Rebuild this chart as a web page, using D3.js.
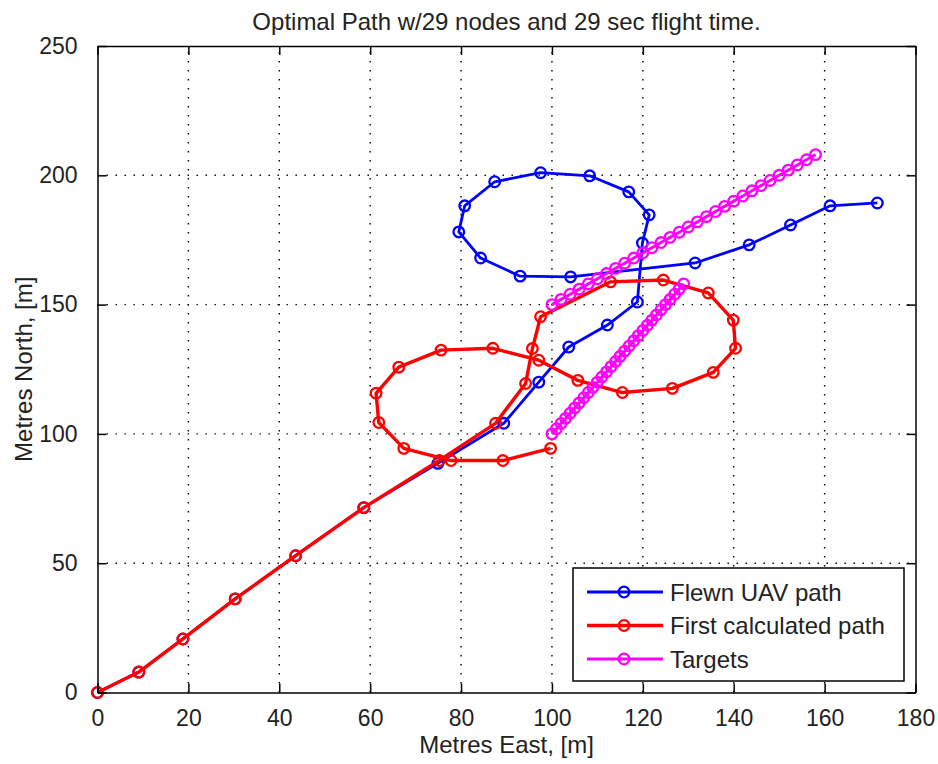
<!DOCTYPE html>
<html>
<head>
<meta charset="utf-8">
<script src="https://cdn.jsdelivr.net/npm/d3@7"></script>
<style>
  body { margin: 0; background: #fff; }
  svg { display: block; font-family: "Liberation Sans", Arial, sans-serif; }
</style>
</head>
<body>
<svg id="chart"></svg>
<script>
// flown UAV path (blue)
const flownX = [0, 9.1, 18.8, 30.3, 43.6, 58.6, 74.9, 89.4, 97.1, 103.7, 112.2, 118.8, 119.9, 121.4, 116.9, 108.3, 97.5, 87.4, 80.8, 79.5, 84.3, 93.0, 104.1, 131.5, 143.4, 152.5, 161.2, 171.6];
const flownY = [0, 7.9, 20.7, 36.2, 52.9, 71.5, 88.6, 104.1, 120.0, 133.6, 142.1, 151.0, 173.8, 184.7, 193.6, 199.8, 201.0, 197.5, 188.2, 178.1, 168.0, 161.0, 160.7, 166.1, 173.1, 180.8, 188.2, 189.3];

// first calculated path (red)
const calcX = [0, 9.1, 18.8, 30.3, 43.6, 58.6, 75.2, 87.6, 94.2, 95.7, 97.5, 112.9, 124.5, 134.4, 139.9, 140.4, 135.5, 126.5, 115.5, 105.7, 97.1, 87.0, 75.6, 66.3, 61.3, 61.9, 67.4, 77.8, 89.2, 99.7];
const calcY = [0, 7.9, 20.7, 36.2, 52.9, 71.5, 89.7, 104.1, 119.5, 133.0, 145.3, 158.8, 159.5, 154.5, 144.0, 133.1, 123.8, 117.6, 116.0, 120.7, 128.5, 133.1, 132.4, 125.8, 115.7, 104.4, 94.4, 89.7, 89.7, 94.4];

// targets (magenta), two tracks
const target1X = [100, 102, 104, 106, 108, 110, 112, 114, 116, 118, 120, 122, 124, 126, 128, 130, 132, 134, 136, 138, 140, 142, 144, 146, 148, 150, 152, 154, 156, 158];
const target1Y = [150, 152, 154, 156, 158, 160, 162, 164, 166, 168, 170, 172, 174, 176, 178, 180, 182, 184, 186, 188, 190, 192, 194, 196, 198, 200, 202, 204, 206, 208];
const target2X = [100, 101, 102, 103, 104, 105, 106, 107, 108, 109, 110, 111, 112, 113, 114, 115, 116, 117, 118, 119, 120, 121, 122, 123, 124, 125, 126, 127, 128, 129];
const target2Y = [100, 102, 104, 106, 108, 110, 112, 114, 116, 118, 120, 122, 124, 126, 128, 130, 132, 134, 136, 138, 140, 142, 144, 146, 148, 150, 152, 154, 156, 158];

const xTicks = [0, 20, 40, 60, 80, 100, 120, 140, 160, 180];
const yTicks = [0, 50, 100, 150, 200, 250];

const titleText = "Optimal Path w/29 nodes and 29 sec flight time.";
const xLabel = "Metres East, [m]";
const yLabel = "Metres North, [m]";

const width = 938;
const height = 764;
const margin = { top: 46, right: 22.5, bottom: 71.5, left: 97.5 };

const svg = d3.select("#chart").attr("width", width).attr("height", height);

const x = d3.scaleLinear().domain([0, 180]).range([margin.left, width - margin.right]);
const y = d3.scaleLinear().domain([0, 250]).range([height - margin.bottom, margin.top]);

const markerR = 5.3;
const series = [
  { name: "Flewn UAV path", color: "#0000ff", width: 2.8, tracks: [[flownX, flownY]] },
  { name: "First calculated path", color: "#ff0000", width: 3.4, tracks: [[calcX, calcY]] },
  { name: "Targets", color: "#ff00ff", width: 3, tracks: [[target1X, target1Y], [target2X, target2Y]] },
];

// dotted grid
const grid = svg.append("g")
  .attr("stroke", "#000")
  .attr("stroke-width", 1.4)
  .attr("stroke-dasharray", "1.4 7.6");
grid.selectAll("line.gx")
  .data(xTicks.slice(1, -1))
  .join("line")
  .attr("class", "gx")
  .attr("x1", (d) => x(d)).attr("x2", (d) => x(d))
  .attr("y1", y(0)).attr("y2", y(250));
grid.selectAll("line.gy")
  .data(yTicks.slice(1, -1))
  .join("line")
  .attr("class", "gy")
  .attr("x1", x(0)).attr("x2", x(180))
  .attr("y1", (d) => y(d)).attr("y2", (d) => y(d));

// paths and markers
const line = d3.line().x((d) => x(d[0])).y((d) => y(d[1]));
series.forEach((s) => {
  const g = svg.append("g");
  s.tracks.forEach(([xs, ys]) => {
    const pts = xs.map((v, i) => [v, ys[i]]);
    g.append("path")
      .attr("d", line(pts))
      .attr("fill", "none")
      .attr("stroke", s.color)
      .attr("stroke-width", s.width)
      .attr("stroke-linejoin", "round");
    g.selectAll(null)
      .data(pts)
      .join("circle")
      .attr("cx", (d) => x(d[0]))
      .attr("cy", (d) => y(d[1]))
      .attr("r", markerR)
      .attr("fill", "none")
      .attr("stroke", s.color)
      .attr("stroke-width", 2.3);
  });
});

// axes box with inward ticks on all sides
const tickLen = 9;
const axisFont = 23;
const xAxisB = svg.append("g")
  .attr("transform", `translate(0 ${y(0)})`)
  .call(d3.axisBottom(x).tickValues(xTicks).tickSize(-tickLen).tickPadding(tickLen + 8).tickSizeOuter(0));
const xAxisT = svg.append("g")
  .attr("transform", `translate(0 ${y(250)})`)
  .call(d3.axisTop(x).tickValues(xTicks).tickSize(-tickLen).tickFormat("").tickSizeOuter(0));
const yAxisL = svg.append("g")
  .attr("transform", `translate(${x(0)} 0)`)
  .call(d3.axisLeft(y).tickValues(yTicks).tickSize(-tickLen).tickPadding(tickLen + 11).tickSizeOuter(0));
const yAxisR = svg.append("g")
  .attr("transform", `translate(${x(180)} 0)`)
  .call(d3.axisRight(y).tickValues(yTicks).tickSize(-tickLen).tickFormat("").tickSizeOuter(0));

[xAxisB, xAxisT, yAxisL, yAxisR].forEach((a) => {
  a.select(".domain").attr("stroke", "#000").attr("stroke-width", 1.5);
  a.selectAll(".tick line").attr("stroke", "#000").attr("stroke-width", 1.5);
  a.selectAll(".tick text")
    .attr("fill", "#222")
    .attr("font-size", axisFont)
    .attr("font-family", "Liberation Sans, Arial, sans-serif");
});
xAxisB.selectAll(".tick text").attr("dy", "0.72em");

// title and axis labels
svg.append("text")
  .attr("x", (x(0) + x(180)) / 2)
  .attr("y", 30)
  .attr("text-anchor", "middle")
  .attr("font-size", 24)
  .attr("fill", "#222")
  .text(titleText);

svg.append("text")
  .attr("x", (x(0) + x(180)) / 2)
  .attr("y", 753)
  .attr("text-anchor", "middle")
  .attr("font-size", 24)
  .attr("fill", "#222")
  .text(xLabel);

svg.append("text")
  .attr("transform", `translate(32 ${(y(0) + y(250)) / 2}) rotate(-90)`)
  .attr("text-anchor", "middle")
  .attr("font-size", 24)
  .attr("fill", "#222")
  .text(yLabel);

// legend
const legend = svg.append("g").attr("transform", "translate(573 568)");
legend.append("rect")
  .attr("width", 331)
  .attr("height", 113)
  .attr("fill", "#fff")
  .attr("stroke", "#000")
  .attr("stroke-width", 1.5);
const rows = legend.selectAll("g.row")
  .data(series)
  .join("g")
  .attr("class", "row")
  .attr("transform", (d, i) => `translate(0 ${24 + i * 33.5})`);
rows.append("line")
  .attr("x1", 14).attr("x2", 90)
  .attr("stroke", (d) => d.color)
  .attr("stroke-width", (d) => d.width);
rows.append("circle")
  .attr("cx", 51)
  .attr("r", markerR)
  .attr("fill", "none")
  .attr("stroke", (d) => d.color)
  .attr("stroke-width", 2.3);
rows.append("text")
  .attr("x", 97)
  .attr("dy", "0.36em")
  .attr("font-size", 24)
  .attr("fill", "#222")
  .text((d) => d.name);
</script>
</body>
</html>
